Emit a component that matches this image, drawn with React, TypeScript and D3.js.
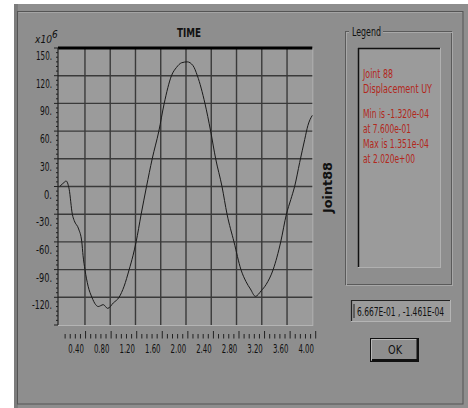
import * as d3 from "d3";

// time history of Joint 88, displacement UY (x10^-6)
const times = [0, 0.08, 0.1, 0.15, 0.2, 0.23, 0.3, 0.35, 0.37, 0.4, 0.45, 0.51, 0.57, 0.61, 0.69, 0.76, 0.85, 0.94, 1.02, 1.1, 1.16, 1.21, 1.29, 1.375, 1.465, 1.57, 1.655, 1.77, 1.85, 1.93, 2.02, 2.11, 2.18, 2.3, 2.39, 2.47, 2.57, 2.65, 2.76, 2.87, 2.95, 3.02, 3.1, 3.19, 3.27, 3.38, 3.5, 3.59, 3.66, 3.72, 3.8, 3.88, 3.93, 4.0];
const values = [0, 5, 6, -3, -30, -37, -46, -60, -75, -90, -108, -120, -128, -130, -128, -132, -126, -120, -108, -90, -75, -60, -30, 0, 30, 60, 90, 120, 129, 134, 135, 131, 120, 90, 60, 30, 0, -30, -60, -90, -103, -111, -119, -113, -106, -90, -60, -30, -14, 0, 26, 51, 66, 77];

const yTicks = [150, 120, 90, 60, 30, 0, -30, -60, -90, -120];
const xTickLabels = ["0.40", "0.80", "1.20", "1.60", "2.00", "2.40", "2.80", "3.20", "3.60", "4.00"];
const legendLines = ["Joint 88", "Displacement  UY", "", "Min is -1.320e-04", "at 7.600e-01", "Max is 1.351e-04", "at 2.020e+00"];
const legendWidths = [30, 69, 0, 66, 48, 66, 52];
const cursorText = "6.667E-01 , -1.461E-04";

const narrow = "'Liberation Sans Narrow', 'DejaVu Sans Condensed', 'Arial Narrow', sans-serif";
const winGray = "#8e8e8e";
const plotGray = "#9b9b9b";

export default function App() {
  const left = 58, right = 312.3, top = 48, bottom = 325;
  const x = d3.scaleLinear().domain([0, 4]).range([59.7, right]);
  const xt = d3.scaleLinear().domain([0, 4]).range([60, 315.7]);
  const y = d3.scaleLinear().domain([-150, 150]).range([bottom, top]);

  const line = d3.line<number>()
    .x((_, i) => x(times[i]))
    .y((d) => y(d))
    .curve(d3.curveMonotoneX);

  const minorY = d3.range(-150, 151, 5);
  const tickSteps = d3.range(1, 51).map((k) => k * 0.08);

  return (
    <svg width={468} height={408} style={{ position: "absolute", left: 0, top: 0, background: "#fff" }}>
      {/* window */}
      <rect x={14} y={4} width={454} height={404} fill={winGray} />
      <rect x={14} y={4} width={4} height={404} fill="#7c7c7c" />
      <rect x={17.5} y={11.5} width={445.5} height={392.5} fill="none" stroke="#555" strokeWidth={1} />
      <line x1={18.5} y1={12.5} x2={462} y2={12.5} stroke="#a4a4a4" />

      {/* title */}
      <text x={189} y={37} textAnchor="middle" fontFamily={narrow} fontWeight="bold" fontSize={13} textLength={24} lengthAdjust="spacingAndGlyphs" fill="#111">TIME</text>
      <text x={35} y={43} fontFamily={narrow} fontStyle="italic" fontSize={11} textLength={17} lengthAdjust="spacingAndGlyphs" fill="#111">x10</text>
      <text x={52} y={38} fontFamily={narrow} fontStyle="italic" fontSize={10} fill="#111">6</text>

      {/* plot area */}
      <rect x={left} y={top} width={right - left} height={bottom - top} fill={plotGray} />
      <line x1={right + 0.5} y1={top} x2={right + 0.5} y2={bottom} stroke="#b4b4b4" />
      <line x1={left} y1={bottom + 0.5} x2={right + 1} y2={bottom + 0.5} stroke="#b4b4b4" />
      {yTicks.filter((v) => v !== 150).map((v) => (
        <line key={"h" + v} x1={left} x2={right} y1={y(v)} y2={y(v)} stroke="#3a3a3a" strokeWidth={1.4} />
      ))}
      {xTickLabels.slice(0, 9).map((_, i) => {
        const t = (i + 1) * 0.4;
        return <line key={"v" + i} x1={x(t)} x2={x(t)} y1={top} y2={bottom} stroke="#3a3a3a" strokeWidth={1.4} />;
      })}
      <line x1={left} x2={right} y1={top} y2={top} stroke="#000" strokeWidth={3} />
      <line x1={left} x2={left} y1={top} y2={bottom} stroke="#222" strokeWidth={1.2} />
      {minorY.map((v) => (
        <line key={"my" + v} x1={v % 30 === 0 ? left - 4 : left - 2} x2={left} y1={y(v)} y2={y(v)} stroke="#222" strokeWidth={1} />
      ))}

      <path d={line(values) || ""} fill="none" stroke="#1a1a1a" strokeWidth={1} />

      {/* y labels */}
      {yTicks.map((v) => {
        const s = v + ".";
        return (
          <text key={"yl" + v} x={52} y={y(v) + 12} textAnchor="end" fontFamily={narrow} fontSize={12} textLength={s.length * 4} lengthAdjust="spacingAndGlyphs" fill="#111">{s}</text>
        );
      })}

      {/* x ticks */}
      {tickSteps.map((t, k) => {
        const major = (k + 1) % 5 === 0;
        return <line key={"xt" + k} x1={xt(t)} x2={xt(t)} y1={major ? 331 : 334} y2={338.5} stroke="#222" strokeWidth={1} />;
      })}
      {xTickLabels.map((s, i) => (
        <text key={"xl" + s} x={xt((i + 1) * 0.4) - 9.5} y={353} textAnchor="middle" fontFamily={narrow} fontSize={12} textLength={15.5} lengthAdjust="spacingAndGlyphs" fill="#111">{s}</text>
      ))}

      {/* vertical label */}
      <text transform="translate(332,187.5) rotate(-90)" textAnchor="middle" fontFamily={narrow} fontWeight="bold" fontSize={12.5} textLength={51} lengthAdjust="spacingAndGlyphs" fill="#111">Joint88</text>

      {/* legend group */}
      <rect x={345.5} y={31.5} width={106} height={253} fill="none" stroke="#5a5a5a" />
      <rect x={346.5} y={32.5} width={106} height={253} fill="none" stroke="#a8a8a8" />
      <rect x={349} y={26} width={34} height={12} fill={winGray} />
      <text x={352} y={36} fontFamily={narrow} fontSize={12} textLength={29} lengthAdjust="spacingAndGlyphs" fill="#111">Legend</text>

      <rect x={358} y={48} width={82} height={219} fill={plotGray} />
      <line x1={358} y1={48.5} x2={440} y2={48.5} stroke="#111" strokeWidth={1.5} />
      <line x1={358.5} y1={48} x2={358.5} y2={267} stroke="#111" strokeWidth={1.5} />
      <line x1={440.5} y1={48} x2={440.5} y2={267.5} stroke="#b0b0b0" />
      <line x1={358} y1={267.5} x2={441} y2={267.5} stroke="#b0b0b0" />
      {legendLines.map((s, i) =>
        s ? (
          <text key={"lg" + i} x={363} y={78 + i * 15 - (i >= 3 ? 5 : 0)} fontFamily={narrow} fontSize={13} textLength={legendWidths[i]} lengthAdjust="spacingAndGlyphs" fill="#b2281c">{s}</text>
        ) : null
      )}

      {/* cursor box */}
      <rect x={351} y={300} width={99} height={21} fill={plotGray} />
      <line x1={351} y1={300.5} x2={450} y2={300.5} stroke="#222" strokeWidth={1.2} />
      <line x1={351.5} y1={300} x2={351.5} y2={321} stroke="#222" strokeWidth={1.2} />
      <line x1={450.5} y1={300} x2={450.5} y2={321.5} stroke="#b4b4b4" />
      <line x1={351} y1={321.5} x2={451} y2={321.5} stroke="#b4b4b4" />
      <line x1={354} y1={304} x2={354} y2={318} stroke="#222" strokeWidth={1} />
      <text x={357} y={315.5} fontFamily={narrow} fontSize={12} textLength={87} lengthAdjust="spacingAndGlyphs" fill="#111">{cursorText}</text>

      {/* OK button */}
      <rect x={370} y={338} width={49} height={24} fill={winGray} />
      <rect x={370.5} y={338.5} width={48} height={23} fill="none" stroke="#111" />
      <line x1={371.5} y1={339.5} x2={417} y2={339.5} stroke="#b8b8b8" />
      <line x1={371.5} y1={339.5} x2={371.5} y2={360} stroke="#b8b8b8" />
      <line x1={372} y1={360} x2={418} y2={360} stroke="#111" strokeWidth={2} />
      <line x1={417.5} y1={339} x2={417.5} y2={361} stroke="#111" strokeWidth={2} />
      <text x={395} y={354} textAnchor="middle" fontFamily={narrow} fontSize={13} textLength={14} lengthAdjust="spacingAndGlyphs" fill="#111">OK</text>
    </svg>
  );
}
